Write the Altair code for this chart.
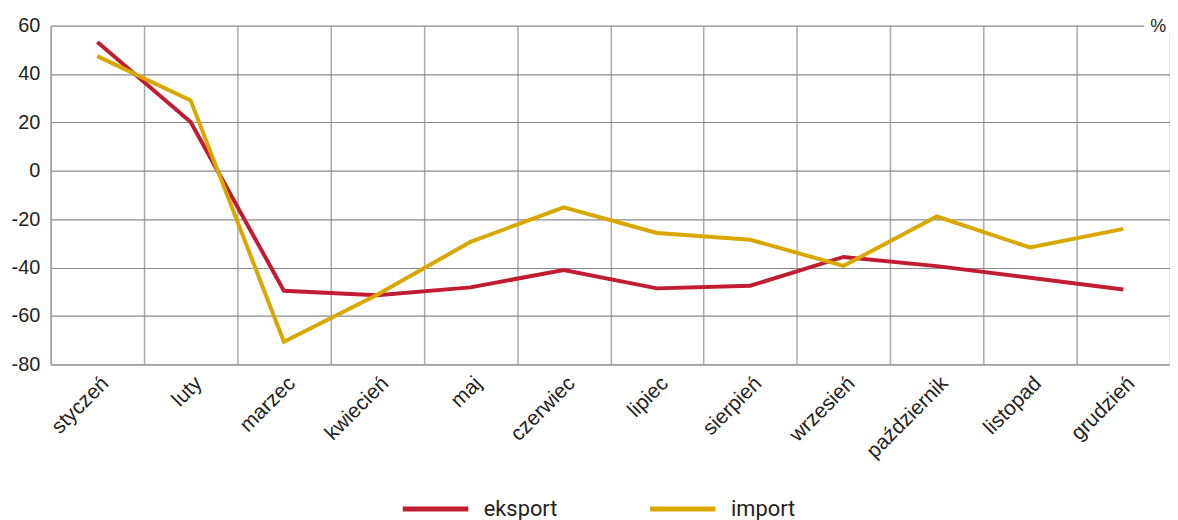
import altair as alt
import pandas as pd

months = ["styczeń", "luty", "marzec", "kwiecień", "maj", "czerwiec", "lipiec",
          "sierpień", "wrzesień", "październik", "listopad", "grudzień"]
eksport = [53.2, 20.2, -49.6, -51.4, -48.2, -41.0, -48.6, -47.5, -35.6, -39.4, -44.2, -49.1]
imp = [47.4, 29.1, -70.7, -51.2, -29.4, -15.1, -25.7, -28.5, -39.3, -18.9, -31.7, -24.0]
series = ["eksport", "import"]
colors = ["#c01e30", "#d8a800"]
y_ticks = [-80, -60, -40, -20, 0, 20, 40, 60]

rows = []
for m, e, i in zip(months, eksport, imp):
    rows.append({"miesiac": m, "seria": "eksport", "wartosc": e})
    rows.append({"miesiac": m, "seria": "import", "wartosc": i})
df = pd.DataFrame(rows)

W, H = 1127, 341

x_enc = alt.X("miesiac:N", sort=months, title=None,
              scale=alt.Scale(paddingInner=0, paddingOuter=0),
              axis=alt.Axis(labelAngle=-45, labelAlign="right", labelBaseline="top",
                            labelPadding=8, ticks=False, tickBand="extent",
                            grid=True, gridColor="#a9a9a9", gridWidth=1.5,
                            domain=True, domainColor="#a0a0a0", domainWidth=1.5,
                            labelFont="Liberation Sans", labelFontSize=21,
                            labelColor="#222222"))
y_enc = alt.Y("wartosc:Q", title=None,
              scale=alt.Scale(domain=[-80, 60], nice=False),
              axis=alt.Axis(values=y_ticks, ticks=False, labelPadding=11,
                            labelExpr="'' + datum.value",
                            grid=True, gridColor="#8a8a8a", gridWidth=1.2,
                            domain=True, domainColor="#a0a0a0", domainWidth=1.5,
                            labelFont="Liberation Sans", labelFontSize=20,
                            labelColor="#222222"))

lines = alt.Chart(df).mark_line(strokeWidth=4).encode(
    x=x_enc,
    y=y_enc,
    color=alt.Color("seria:N", scale=alt.Scale(domain=series, range=colors),
                    legend=alt.Legend(title=None, orient="none", direction="horizontal",
                                      legendX=352, legendY=451,
                                      symbolType="stroke", symbolSize=4356,
                                      symbolStrokeWidth=5, labelFont="Roboto",
                                      labelFontSize=22, labelColor="#222222",
                                      labelOffset=13, columnPadding=82)),
)

mask = alt.Chart(pd.DataFrame({"a": [1]})).mark_rect(color="white").encode(
    x=alt.value(1101), x2=alt.value(1129), y=alt.value(-8), y2=alt.value(8)
)
pct = alt.Chart(pd.DataFrame({"a": [1]})).mark_text(
    text="%", fontSize=18, font="Liberation Sans", color="#222222", align="center",
    baseline="middle"
).encode(x=alt.value(1115), y=alt.value(1))

chart = alt.layer(lines, mask, pct).properties(
    width=W, height=H,
    autosize=alt.AutoSizeParams(type="none"),
    padding={"left": 43, "top": 16, "right": 0, "bottom": 160},
).configure_view(stroke=None)

chart.save("out.html", embed_options={"renderer": "svg", "actions": False})
